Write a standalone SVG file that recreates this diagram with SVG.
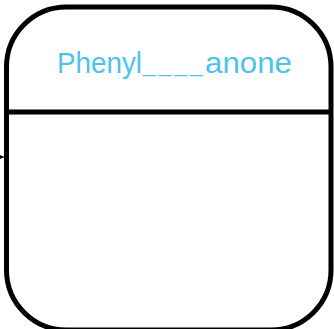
<svg xmlns="http://www.w3.org/2000/svg" width="334" height="329" viewBox="0 0 334 329">
<style>
.box{fill:#ffffff;stroke:#000000;stroke-width:5}
.div{stroke:#000000;stroke-width:5;fill:none}
.title{font-family:"Liberation Sans",Arial,sans-serif;font-size:30px;fill:#4CC3EB}
.dash{font-size:22px;letter-spacing:3.6px}
.conn{stroke:#000000;stroke-width:1;fill:none}
</style>
<defs>
<marker id="ah" markerWidth="4" markerHeight="4" refX="4" refY="2" orient="auto" markerUnits="userSpaceOnUse">
<path d="M0,0 L4,2 L0,4 Z" fill="#000000"/>
</marker>
</defs>
<g id="connectors">
<line class="conn" x1="-4" y1="157" x2="4" y2="157" marker-end="url(#ah)"/>
</g>
<g id="node-phenylanone">
<rect class="box" x="6.5" y="7" width="324.5" height="323" rx="60" ry="60"/>
<line class="div" x1="6.5" y1="112" x2="331" y2="112"/>
<text class="title" y="73"><tspan x="57" textLength="85" lengthAdjust="spacingAndGlyphs">Phenyl</tspan><tspan class="dash" x="143" y="72">____</tspan><tspan x="205" y="73" textLength="87" lengthAdjust="spacingAndGlyphs">anone</tspan></text>
</g>
</svg>
